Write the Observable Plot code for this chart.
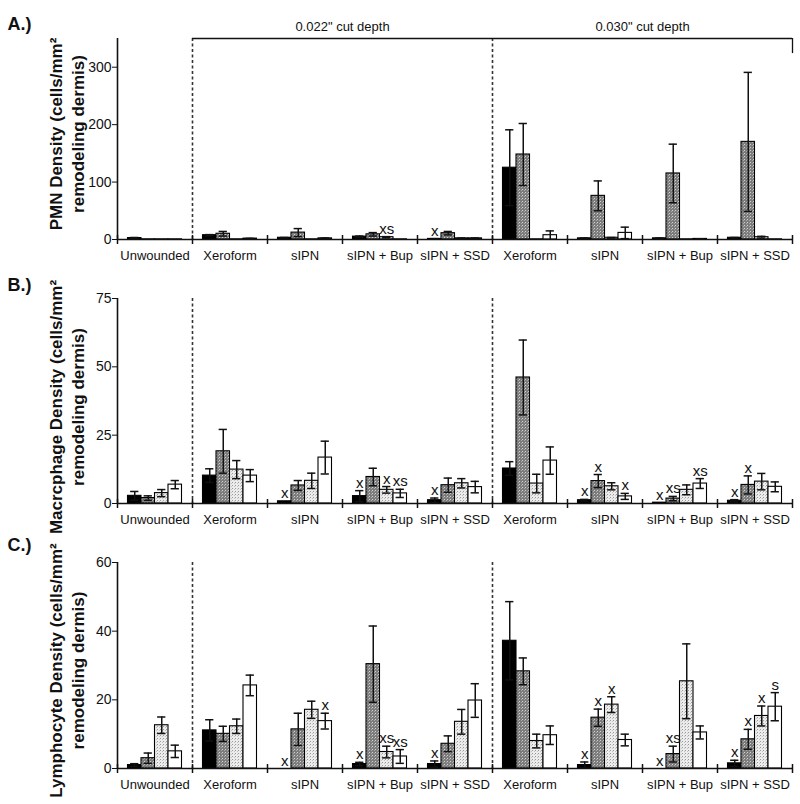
<!DOCTYPE html>
<html>
<head>
<meta charset="utf-8">
<script src="https://cdn.jsdelivr.net/npm/d3@7"></script>
<script src="https://cdn.jsdelivr.net/npm/@observablehq/plot@0.6"></script>
<style>
  body { margin: 0; background: #fff; }
  #chart svg { display: block; }
</style>
</head>
<body>
<svg width="0" height="0" style="position:absolute">
  <defs>
    <pattern id="pDark" width="3" height="3" patternUnits="userSpaceOnUse">
      <rect width="3" height="3" fill="#7c7c7c"></rect>
      <rect x="0" y="0" width="1" height="1" fill="#d2d2d2"></rect>
      <rect x="2" y="1" width="1" height="1" fill="#a8a8a8"></rect>
    </pattern>
    <pattern id="pLight" width="3" height="3" patternUnits="userSpaceOnUse">
      <rect width="3" height="3" fill="#ececec"></rect>
      <rect x="1" y="1" width="1" height="1" fill="#9a9a9a"></rect>
      <rect x="0" y="2" width="1" height="1" fill="#c4c4c4"></rect>
    </pattern>
  </defs>
</svg>
<div id="chart"></div>
<script>
// ---------- data ----------
const groups = ["Unwounded", "Xeroform", "sIPN", "sIPN + Bup", "sIPN + SSD",
                "Xeroform", "sIPN", "sIPN + Bup", "sIPN + SSD"];
const series = ["Series 1", "Series 2", "Series 3", "Series 4"];
const seriesFills = ["#000000", "url(#pDark)", "url(#pLight)", "#ffffff"];
const dividers = [1, 5];                       // group boundaries with dashed lines
const depthSpans = [[1, 5], [5, 9]];
const depthLabels = ["0.022\" cut depth", "0.030\" cut depth"];

// Panel A: PMN density
const pmnMean = [[2.5, 0.3, 0.3, 0.3], [7.5, 10, 0.3, 1.5], [3, 12, 0.3, 2], [5, 9, 4, 0.3], [1, 11, 2, 2],
                 [125, 148, 0.3, 7.5], [2, 76, 3, 11.5], [2, 115, 0.3, 1], [3, 170, 4, 0.3]];
const pmnErr  = [[1, 0, 0, 0], [1, 4, 0, 0.5], [0.5, 7, 0, 0.5], [1, 3, 1, 0], [0.5, 3, 0.5, 0.5],
                 [66, 54, 0, 7.5], [0.5, 26, 0.5, 10], [0.5, 51, 0, 0.3], [0.5, 121, 1.5, 0]];
const pmnNotes = [[3, 2, "xs"], [4, 0, "x"]];
const pmnTicks = [0, 100, 200, 300];

// Panel B: macrophage density
const macMean = [[2.8, 2.0, 3.8, 6.9], [10.2, 19.1, 12.4, 10.2], [0.8, 6.6, 8.3, 16.8], [2.7, 9.7, 5.0, 3.7], [1.2, 6.7, 7.4, 6.0],
                 [12.8, 46.1, 7.3, 15.7], [1.2, 8.2, 6.3, 2.6], [0.3, 1.8, 5.0, 7.3], [1.0, 6.8, 8.0, 6.1]];
const macErr  = [[1.6, 0.8, 1.3, 1.5], [2.5, 8, 3.3, 2.2], [0, 1.8, 2.8, 6.0], [2.0, 3.2, 1.2, 1.5], [0.8, 2.6, 1.7, 2.1],
                 [2.5, 13.7, 3.4, 5.0], [0.3, 2.4, 1.3, 1.1], [0, 0.8, 1.8, 1.8], [0.4, 3.3, 3.0, 1.8]];
const macNotes = [[2, 0, "x"], [3, 0, "x"], [3, 2, "x"], [3, 3, "xs"], [4, 0, "x"],
                  [6, 0, "x"], [6, 1, "x"], [6, 3, "x"], [7, 0, "x"], [7, 1, "xs"], [7, 3, "xs"],
                  [8, 0, "x"], [8, 1, "x"]];
const macTicks = [0, 25, 50, 75];

// Panel C: lymphocyte density
const lymMean = [[1.0, 3.0, 12.6, 5.0], [11.1, 10.1, 12.3, 24.2], [0, 11.4, 17.1, 13.8], [1.3, 30.4, 4.8, 3.5], [1.3, 7.2, 13.6, 19.8],
                 [37.2, 28.3, 8.0, 9.7], [1.0, 14.8, 18.6, 8.3], [0, 4.2, 25.4, 10.5], [1.5, 8.5, 15.3, 18.0]];
const lymErr  = [[0.4, 1.5, 2.4, 1.8], [3.1, 2.2, 2.1, 3.0], [0, 4.7, 2.5, 2.3], [0.5, 11.1, 1.7, 2.0], [0.9, 2.3, 3.6, 4.9],
                 [11.4, 3.9, 2.0, 2.7], [0.9, 2.5, 2.3, 1.7], [0, 2.3, 10.9, 1.9], [0.9, 2.9, 2.9, 4.1]];
const lymNotes = [[2, 0, "x"], [2, 3, "x"], [3, 0, "x"], [3, 2, "xs"], [3, 3, "xs"], [4, 0, "x"],
                  [6, 0, "x"], [6, 1, "x"], [6, 2, "x"], [7, 0, "x"], [7, 1, "xs"],
                  [8, 0, "x"], [8, 1, "x"], [8, 2, "x"], [8, 3, "s"]];
const lymTicks = [0, 20, 40, 60];

// ---------- layout helpers ----------
const pad = 0.14, barW = 0.18, capW = 0.055;
const font = "Liberation Sans, Arial, Helvetica, sans-serif";

function buildRows(mean, err, notes) {
  const rows = [];
  mean.forEach((vals, g) => vals.forEach((v, si) => {
    const n = notes.find(([ng, ns]) => ng === g && ns === si);
    rows.push({g, si, series: series[si], mean: v, err: err[g][si], note: n ? n[2] : ""});
  }));
  return rows;
}

function panel(cfg) {
  const data = buildRows(cfg.mean, cfg.err, cfg.notes);
  const x1 = d => d.g + pad + d.si * barW;
  const x2 = d => d.g + pad + (d.si + 1) * barW;
  const xc = d => d.g + pad + (d.si + 0.5) * barW;
  const top = d => d.mean + d.err;
  const withErr = data.filter(d => d.err > 0);
  const yMax = cfg.ticks[cfg.ticks.length - 1] * cfg.topFactor;
  const marks = [
    Plot.ruleX(dividers, {strokeDasharray: "3,2.5", strokeWidth: 1.6, stroke: "#333"}),
    Plot.rect(data, {x1, x2, y1: 0, y2: "mean", fill: "series", stroke: "#000", strokeWidth: 1.1}),
    Plot.ruleX(withErr, {x: xc, y1: d => Math.max(0, d.mean - d.err), y2: top, stroke: "#111", strokeWidth: 1.5}),
    Plot.ruleY(withErr, {y: top, x1: d => xc(d) - capW, x2: d => xc(d) + capW, stroke: "#111", strokeWidth: 1.5}),
    Plot.ruleY(withErr.filter(d => d.mean - d.err > 0), {y: d => d.mean - d.err, x1: d => xc(d) - capW, x2: d => xc(d) + capW, stroke: "#111", strokeWidth: 1.5}),
    Plot.ruleY([0], {stroke: "#111", strokeWidth: 1.6}),
    Plot.ruleX([0], {stroke: "#111", strokeWidth: 1.6}),
    Plot.ruleX(d3.range(0, groups.length + 1), {y1: 0, y2: 0, insetTop: -4, insetBottom: -5, stroke: "#111", strokeWidth: 1.5}),
    Plot.text(data.filter(d => d.note), {x: xc, y: d => Math.max(top(d), d.mean), text: "note", lineAnchor: "bottom", dy: -3, fontSize: 15, fill: "#111"}),
    Plot.text(groups, {x: (d, i) => i + 0.5, frameAnchor: "bottom", dy: 20, fontSize: 13, fill: "#111"}),
    Plot.text([cfg.ylabel], {frameAnchor: "left", textAnchor: "middle", lineAnchor: "middle", rotate: -90, dx: -52, dy: cfg.labelDy, fontSize: 17, fontWeight: "bold", lineHeight: 1.3, fill: "#111"}),
    Plot.text([cfg.letter], {frameAnchor: "top-left", dx: -110, dy: cfg.letterDy, textAnchor: "start", fontSize: 18, fontWeight: "bold", fill: "#111"})
  ];
  if (cfg.bracket) {
    marks.push(
      Plot.ruleY([yMax], {x1: depthSpans[0][0], x2: depthSpans[1][1], stroke: "#111", strokeWidth: 1.3}),
      Plot.ruleX([depthSpans[1][1]], {y1: yMax, y2: yMax * 0.925, stroke: "#111", strokeWidth: 1.3}),
      Plot.text(depthLabels, {x: (d, i) => (depthSpans[i][0] + depthSpans[i][1]) / 2, frameAnchor: "top", lineAnchor: "bottom", dy: -8, fontSize: 13, fill: "#111"})
    );
  }
  return Plot.plot({
    width: 800,
    height: cfg.height,
    marginLeft: 117,
    marginRight: 8,
    marginTop: cfg.marginTop,
    marginBottom: cfg.marginBottom,
    style: {fontFamily: font, fontSize: "14px", color: "#111", background: "transparent", overflow: "visible"},
    x: {domain: [0, groups.length], axis: null},
    y: {domain: [0, yMax], ticks: cfg.ticks, tickSize: 5, tickPadding: 1, label: null},
    color: {domain: series, range: seriesFills},
    marks
  });
}

const chart = document.getElementById("chart");
chart.append(panel({
  mean: pmnMean, err: pmnErr, notes: pmnNotes, ticks: pmnTicks, topFactor: 350 / 300,
  ylabel: "PMN Density (cells/mm²\nremodeling dermis)", letter: "A.)",
  height: 262, marginTop: 38, marginBottom: 23, letterDy: -21, labelDy: -5, bracket: true
}));
chart.append(panel({
  mean: macMean, err: macErr, notes: macNotes, ticks: macTicks, topFactor: 1,
  ylabel: "Macrcphage Density (cells/mm²\nremodeling dermis)", letter: "B.)",
  height: 268, marginTop: 36, marginBottom: 27, letterDy: -20, labelDy: 6, bracket: false
}));
chart.append(panel({
  mean: lymMean, err: lymErr, notes: lymNotes, ticks: lymTicks, topFactor: 1,
  ylabel: "Lymphocyte Density (cells/mm²\nremodeling dermis)", letter: "C.)",
  height: 274, marginTop: 32, marginBottom: 36, letterDy: -24, labelDy: 5, bracket: false
}));
</script>
</body>
</html>
